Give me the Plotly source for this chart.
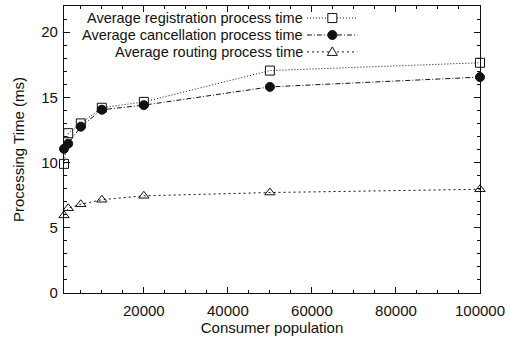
import plotly.graph_objects as go

population = [1000, 2000, 5000, 10000, 20000, 50000, 100000]
registration = [9.9, 12.25, 13.0, 14.2, 14.65, 17.05, 17.65]
cancellation = [11.05, 11.45, 12.75, 14.05, 14.4, 15.8, 16.55]
routing = [5.95, 6.5, 6.8, 7.15, 7.45, 7.7, 7.95]

series_names = ["Average registration process time",
                "Average cancellation process time",
                "Average routing process time"]
x_ticks = [20000, 40000, 60000, 80000, 100000]
y_ticks = [0, 5, 10, 15, 20]

FONT = "Liberation Sans, Arial, Helvetica, sans-serif"
INK = "#111111"

styles = [
    dict(dash="1px,2px", symbol="square-open"),
    dict(dash="5px,2px,1px,2px", symbol="circle"),
    dict(dash="2px,3px", symbol="triangle-up-open"),
]

fig = go.Figure()
for name, ys, st in zip(series_names, [registration, cancellation, routing], styles):
    fig.add_trace(go.Scatter(
        x=population, y=ys, name=name, mode="lines+markers",
        line=dict(color=INK, width=1, dash=st["dash"]),
        marker=dict(symbol=st["symbol"], size=9,
                    color=INK, line=dict(color=INK, width=1)),
        cliponaxis=False, showlegend=False,
    ))

# custom gnuplot-style legend (text right-aligned, key sample on the right)
row_y = [0.958, 0.899, 0.840]
text_x = 0.577
line_x0, line_x1, mark_x = 0.584, 0.705, 0.645
shapes = []
annotations = []
for i, (name, st) in enumerate(zip(series_names, styles)):
    annotations.append(dict(xref="paper", yref="paper", x=text_x, y=row_y[i],
                            text=name, showarrow=False, xanchor="right", yanchor="middle",
                            borderpad=0,
                            font=dict(family=FONT, size=14.5, color=INK)))
    shapes.append(dict(type="line", xref="paper", yref="paper",
                       x0=line_x0, x1=line_x1, y0=row_y[i], y1=row_y[i],
                       line=dict(color=INK, width=1, dash=st["dash"])))
    if st["symbol"] == "square-open":
        shapes.append(dict(type="rect", xref="paper", yref="paper", xsizemode="pixel", ysizemode="pixel",
                           xanchor=mark_x, yanchor=row_y[i], x0=-4.5, x1=4.5, y0=-4.5, y1=4.5,
                           line=dict(color=INK, width=1), fillcolor="white"))
    elif st["symbol"] == "circle":
        shapes.append(dict(type="circle", xref="paper", yref="paper", xsizemode="pixel", ysizemode="pixel",
                           xanchor=mark_x, yanchor=row_y[i], x0=-4.5, x1=4.5, y0=-4.5, y1=4.5,
                           line=dict(color=INK, width=1), fillcolor=INK))
    else:
        shapes.append(dict(type="path", xref="paper", yref="paper", xsizemode="pixel", ysizemode="pixel",
                           xanchor=mark_x, yanchor=row_y[i], path="M -5 -3.5 L 5 -3.5 L 0 5 Z",
                           line=dict(color=INK, width=1), fillcolor="white"))

axis_common = dict(showline=True, linecolor=INK, linewidth=1.2, mirror="allticks",
                   ticks="inside", ticklen=6, tickcolor=INK, tickwidth=1,
                   showgrid=False, zeroline=False,
                   tickfont=dict(family=FONT, size=15, color=INK),
                   title_font=dict(family=FONT, size=15, color=INK))

fig.update_xaxes(range=[1000, 100000], tickvals=x_ticks, ticktext=[str(v) for v in x_ticks],
                 minor=dict(dtick=5000, tick0=0, ticks="inside", ticklen=3, tickcolor=INK, showgrid=False),
                 ticklabelstandoff=4,
                 title_text="Consumer population", title_standoff=4, **axis_common)
fig.update_yaxes(range=[0, 22], tickvals=y_ticks, ticktext=[str(v) for v in y_ticks],
                 minor=dict(dtick=1, tick0=0, ticks="inside", ticklen=3, tickcolor=INK, showgrid=False),
                 ticklabelstandoff=2,
                 title_text="Processing Time (ms)", title_standoff=12, **axis_common)

fig.update_layout(width=510, height=343, margin=dict(l=64, r=28, t=5, b=50),
                  plot_bgcolor="white", paper_bgcolor="white",
                  shapes=shapes, annotations=annotations,
                  font=dict(family=FONT, size=15, color=INK))

fig.write_html("out.html")
